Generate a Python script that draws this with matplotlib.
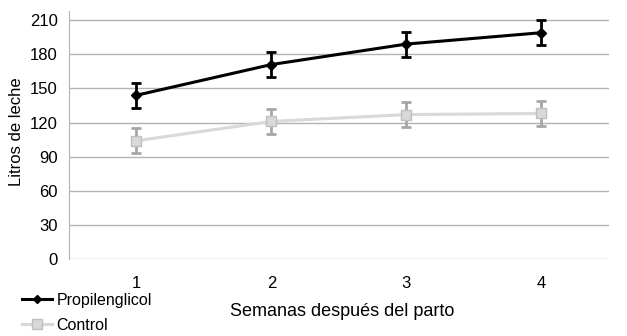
import matplotlib.pyplot as plt
from matplotlib.lines import Line2D

plt.rcParams['font.family'] = ['Liberation Sans', 'DejaVu Sans']

semanas = [1, 2, 3, 4]
semana_labels = ['1', '2', '3', '4']
propilenglicol = [144, 171, 189, 199]
propilenglicol_err = [11, 11, 11, 11]
control = [104, 121, 127, 128]
control_err = [11, 11, 11, 11]
yticks = [0, 30, 60, 90, 120, 150, 180, 210]

fig = plt.figure(figsize=(6.27, 3.36), dpi=100)
ax = fig.add_axes([0.110, 0.229, 0.861, 0.738])

ax.errorbar(semanas, control, yerr=control_err, color='#d9d9d9', lw=2.2,
            marker='s', ms=7, mfc='#d9d9d9', mec='#bfbfbf',
            ecolor='#a6a6a6', elinewidth=2, capsize=3.5, capthick=2, zorder=3)
ax.errorbar(semanas, propilenglicol, yerr=propilenglicol_err, color='black', lw=2.2,
            marker='D', ms=5, mfc='black', mec='black',
            ecolor='black', elinewidth=2, capsize=3.5, capthick=2, zorder=4)

ax.set_xlim(0.5, 4.5)
ax.set_ylim(0, 218)
ax.set_yticks(yticks)
ax.set_xticks(semanas)
ax.set_xticklabels(semana_labels)
ax.grid(axis='y', color='#b3b3b3', lw=1)
ax.set_axisbelow(True)
ax.tick_params(length=0, labelsize=12)
ax.tick_params(axis='x', pad=12)
ax.tick_params(axis='y', pad=8)
for s in ['top', 'right', 'bottom']:
    ax.spines[s].set_visible(False)
ax.spines['left'].set_color('#b3b3b3')

fig.text(0.545, 1 - 312 / 336, 'Semanas después del parto', ha='center', va='center', fontsize=13)
fig.text(17 / 627, 1 - 132 / 336, 'Litros de leche', ha='center', va='center',
         rotation=90, fontsize=12)

handles = [
    Line2D([], [], color='black', lw=2.2, marker='D', ms=4.5),
    Line2D([], [], color='#d9d9d9', lw=2.2, marker='s', ms=6.5, mfc='#d9d9d9', mec='#bfbfbf'),
]
fig.legend(handles, ['Propilenglicol', 'Control'], loc='upper left',
           bbox_to_anchor=(0.035, 1 - 293 / 336),
           frameon=False, fontsize=11.5, handlelength=1.9, handletextpad=0.25,
           labelspacing=0.6, borderaxespad=0, borderpad=0)

fig.savefig('out.png', dpi=100)
